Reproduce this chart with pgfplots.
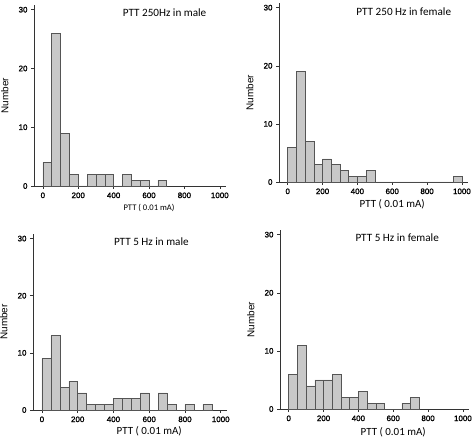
\documentclass[border=0pt]{standalone}
\usepackage{pgfplots}
\pgfplotsset{compat=1.18}
\usepackage{pgfplotstable}
\usepackage{fontspec}
\setmainfont{Liberation Sans}
\newfontfamily\calfont{Carlito}
\newfontfamily\tickfont[FakeBold=1.5]{Liberation Sans}
\definecolor{barfill}{RGB}{200,200,200}
\definecolor{baredge}{RGB}{85,85,85}

% bin start, count (bins of width 50); last row closes the last bar
\pgfplotstableread{
x y
0 4
50 26
100 9
150 2
200 0
250 2
300 2
350 2
400 0
450 2
500 1
550 1
600 0
650 1
700 1
}\malehigh
\pgfplotstableread{
x y
0 6
50 19
100 7
150 3
200 4
250 3
300 2
350 1
400 1
450 2
500 0
550 0
600 0
650 0
700 0
750 0
800 0
850 0
900 0
950 1
1000 1
}\femalehigh
\pgfplotstableread{
x y
0 9
50 13
100 4
150 5
200 3
250 1
300 1
350 1
400 2
450 2
500 2
550 3
600 0
650 3
700 1
750 0
800 1
850 0
900 1
950 1
}\malelow
\pgfplotstableread{
x y
0 6
50 11
100 4
150 5
200 5
250 6
300 2
350 2
400 3
450 1
500 1
550 0
600 0
650 1
700 2
750 2
}\femalelow

\tikzset{ttl/.style={font=\calfont\fontsize{11.2}{13}\selectfont}}
\pgfplotsset{
  histo/.style={
    scale only axis,
    anchor=south west,
    xmin=-50, xmax=1035,
    ymin=0, ymax=30.8,
    axis x line=bottom, axis y line=left,
    axis line style={-, draw=black!80, line width=0.6pt},
    xtick={0,200,400,600,800,1000},
    ytick={0,10,20,30},
    tick align=outside,
    major tick length=3bp,
    tick style={black!80, line width=0.5pt},
    /pgf/number format/assume math mode=true,
    /pgf/number format/1000 sep={},
    tick label style={font=\tickfont\fontsize{8}{9}\selectfont},
    ylabel={Number},
    ylabel style={font=\fontsize{10}{12}\selectfont, at={(axis description cs:0,0.5)}, yshift=22bp},
    xlabel style={at={(axis cs:600,0)}, anchor=north, font=\calfont\fontsize{11}{13}\selectfont},
    clip=false,
  },
  bars/.style={ybar interval, fill=barfill, draw=baredge, line width=0.5pt},
}

\begin{document}
\begin{tikzpicture}
\useasboundingbox (0,0) rectangle (473bp,439bp);

% top-left
\begin{axis}[histo, at={(34bp,253bp)}, width=192bp, height=181bp,
  xlabel={PTT ( 0.01 mA)},
  xlabel style={font=\calfont\fontsize{8.6}{10}\selectfont, yshift=-15bp}]
\addplot[bars] table[x=x,y=y] {\malehigh};
\node[ttl] at (rel axis cs:0.68,0.956) {PTT 250Hz in male};
\end{axis}

% top-right
\begin{axis}[histo, at={(279bp,257bp)}, width=189bp, height=179bp,
  xlabel={PTT ( 0.01 mA)}, xlabel style={yshift=-14bp}]
\addplot[bars] table[x=x,y=y] {\femalehigh};
\node[ttl] at (rel axis cs:0.66,0.95) {PTT 250 Hz in female};
\end{axis}

% bottom-left
\begin{axis}[histo, at={(33bp,29bp)}, width=194bp, height=176bp,
  xlabel={PTT ( 0.01 mA)}, xlabel style={yshift=-13bp}]
\addplot[bars] table[x=x,y=y] {\malelow};
\node[ttl] at (rel axis cs:0.61,0.957) {PTT 5 Hz in male};
\end{axis}

% bottom-right
\begin{axis}[histo, at={(280bp,30bp)}, width=189bp, height=179bp,
  xlabel={PTT ( 0.01 mA)}, xlabel style={yshift=-15bp}]
\addplot[bars] table[x=x,y=y] {\femalelow};
\node[ttl] at (rel axis cs:0.62,0.957) {PTT 5 Hz in female};
\end{axis}
\end{tikzpicture}
\end{document}
